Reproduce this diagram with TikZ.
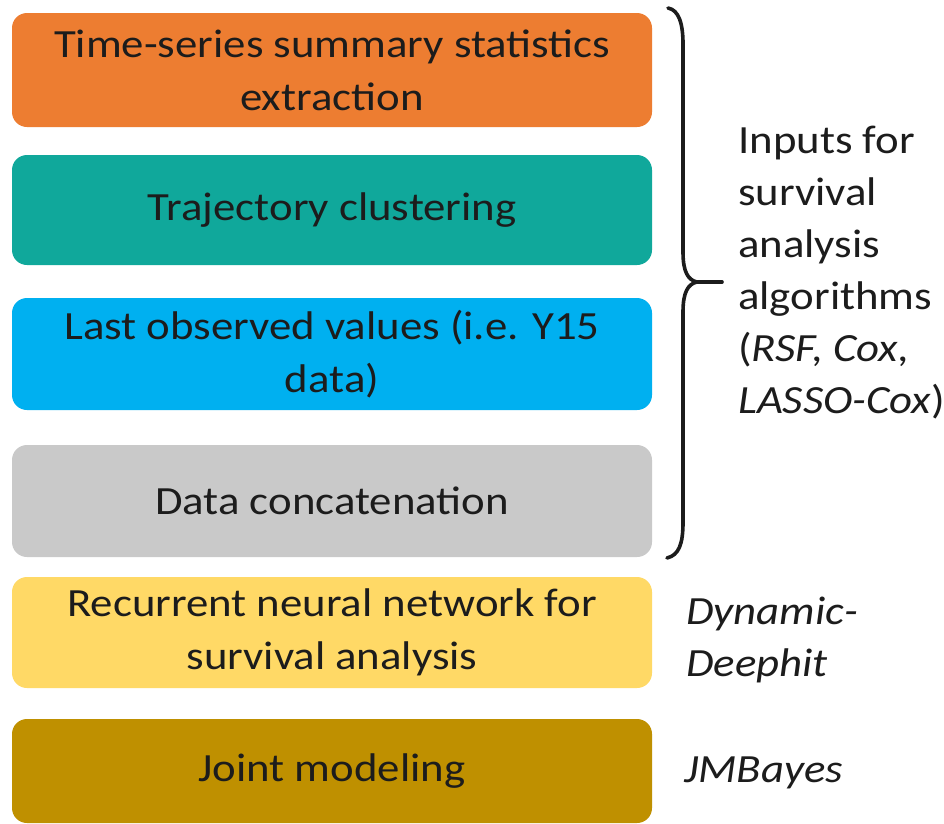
\documentclass[tikz,border=0pt]{standalone}
\usepackage{fontspec}
\setmainfont{Carlito}[FakeStretch=1.12]
\definecolor{cOrange}{HTML}{ED7D31}
\definecolor{cTeal}{HTML}{10A89B}
\definecolor{cBlue}{HTML}{00B0F0}
\definecolor{cGray}{HTML}{C9C9C9}
\definecolor{cYellow}{HTML}{FFD966}
\definecolor{cGold}{HTML}{BF9000}
\definecolor{cInk}{HTML}{1C1C1C}
\tikzset{
  stagebox/.style={rounded corners=15pt, minimum width=640pt, align=center,
    text=cInk, inner sep=0pt, font=\fontsize{40}{53}\selectfont},
  sidelabel/.style={anchor=base west, align=left, inner sep=0pt, text=cInk,
    font=\fontsize{40}{52}\selectfont},
  bracepath/.style={line width=3.6pt, cInk, line cap=round, line join=round}
}
\begin{document}
\begin{tikzpicture}[x=1pt, y=-1pt]
  \useasboundingbox (0,0) rectangle (944,823);
  \fill[white] (0,0) rectangle (944,823);

  % processing stages
  \node[stagebox, fill=cOrange, minimum height=114pt] (ts)   at (332,70)
    {Time-series summary statistics\\extraction};
  \node[stagebox, fill=cTeal, minimum height=110pt] (traj)   at (332,210)
    {Trajectory clustering};
  \node[stagebox, fill=cBlue, minimum height=112pt] (last)   at (332,354)
    {Last observed values (i.e. Y15\\data)};
  \node[stagebox, fill=cGray, minimum height=112pt] (concat) at (332,501)
    {Data concatenation};
  \node[stagebox, fill=cYellow, minimum height=111pt] (rnn)  at (332,632.5)
    {Recurrent neural network for\\survival analysis};
  \node[stagebox, fill=cGold, minimum height=104pt] (joint)  at (332,771)
    {Joint modeling};

  % curly brace grouping the first four stages
  \coordinate (btip) at (722,282);
  \draw[bracepath]
    (668,8) .. controls (679,10) and (683,24) .. (683,44)
    -- (683,252) .. controls (683,272) and (688,280) .. (697,282)
    .. controls (688,284) and (683,292) .. (683,312)
    -- (683,522) .. controls (683,544) and (679,555) .. (667,558);
  \draw[bracepath] (697,282) -- (btip);

  % method labels (anchored at the baseline of their last line)
  \node[sidelabel] (inputs) at (738,413)
    {Inputs for\\survival\\analysis\\algorithms\\(\textit{RSF, Cox,}\\\textit{LASSO-Cox})};
  \node[sidelabel] (ddh) at (686,676) {\textit{Dynamic-}\\\textit{Deephit}};
  \node[sidelabel] (jmb) at (684,782) {\textit{JMBayes}};
\end{tikzpicture}
\end{document}
